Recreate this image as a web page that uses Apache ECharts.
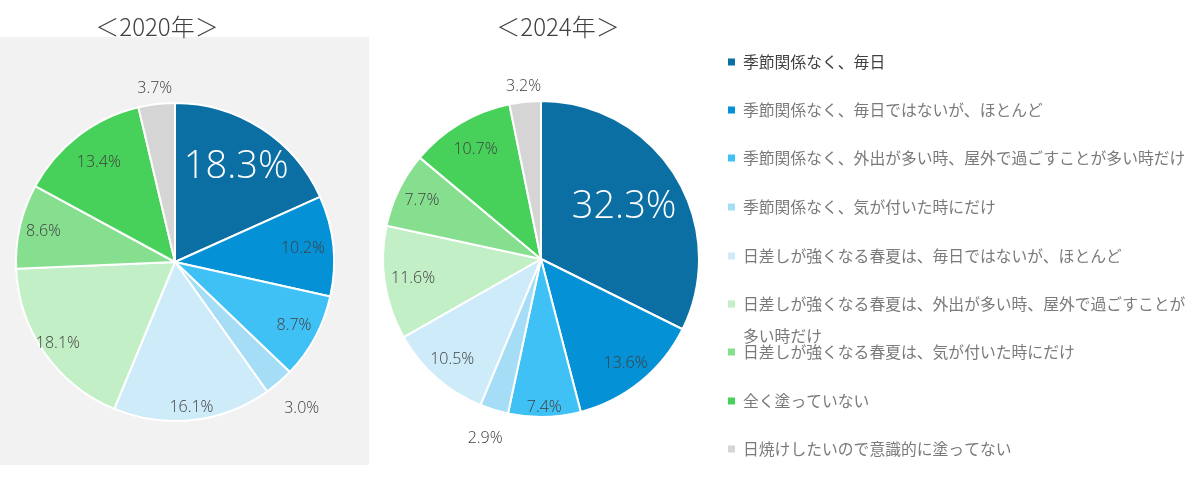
<!DOCTYPE html>
<html><head><meta charset="utf-8">
<script src="https://cdn.jsdelivr.net/npm/echarts@6/dist/echarts.min.js"></script>
<style>html,body{margin:0;padding:0;background:#fff}#c{width:1200px;height:477px}</style>
</head><body><div id="c"></div>
<script>
// ---- data ----
const categories = [
  '季節関係なく、毎日',
  '季節関係なく、毎日ではないが、ほとんど',
  '季節関係なく、外出が多い時、屋外で過ごすことが多い時だけ',
  '季節関係なく、気が付いた時にだけ',
  '日差しが強くなる春夏は、毎日ではないが、ほとんど',
  '日差しが強くなる春夏は、外出が多い時、屋外で過ごすことが多い時だけ',
  '日差しが強くなる春夏は、気が付いた時にだけ',
  '全く塗っていない',
  '日焼けしたいので意識的に塗ってない'
];
const values2020 = [18.3, 10.2, 8.7, 3.0, 16.1, 18.1, 8.6, 13.4, 3.7];
const values2024 = [32.3, 13.6, 7.4, 2.9, 10.5, 11.6, 7.7, 10.7, 3.2];
const yearTitles = ['＜2020年＞', '＜2024年＞'];

// ---- styles / layout ----
const colors = ['#0B6FA4','#0591D5','#40C1F5','#A6DDF6','#CDEBF9','#C3EFC6','#86DE8F','#48D15A','#D5D5D5'];
const FONT = "'Noto Sans CJK JP', 'Noto Sans', sans-serif";
const NUMFONT = "'Open Sans', 'Noto Sans', sans-serif";
const pies = [
  { values: values2020, center: [175, 262], r: 159,
    labelR: [0.69, 0.79, 0.83, 1.2, 0.9, 0.88, 0.83, 0.77, 1.08],
    title: yearTitles[0], titleX: 157 },
  { values: values2024, center: [541, 259], r: 158,
    labelR: [0.6, 0.83, 0.92, 1.17, 0.83, 0.8, 0.82, 0.79, 1.08],
    title: yearTitles[1], titleX: 558 }
];
const legendY = [62, 110, 158, 207, 256, 304, 352, 401, 449];

const series = [];
pies.forEach(p => {
  series.push({
    type: 'pie', center: p.center, radius: [0, p.r], startAngle: 90, clockwise: true,
    silent: true, label: { show: false }, labelLine: { show: false },
    itemStyle: { borderColor: '#ffffff', borderWidth: 2 },
    emphasis: { disabled: true },
    data: categories.map((n, i) => ({ name: n, value: p.values[i], itemStyle: { color: colors[i] } }))
  });
});
pies.forEach(p => {
  const maxV = Math.max(...p.values);
  categories.forEach((_, k) => {
    const f = p.labelR[k];
    const a = (2 * f - 1) * p.r;
    series.push({
      type: 'pie', center: p.center, radius: [Math.min(p.r, a), Math.max(p.r, a)],
      startAngle: 90, clockwise: true, silent: true, avoidLabelOverlap: false,
      itemStyle: { color: 'rgba(0,0,0,0)', borderWidth: 0 },
      labelLine: { show: false }, emphasis: { disabled: true },
      label: { show: false },
      data: categories.map((n, i) => {
        const big = p.values[i] === maxV;
        return {
          name: n, value: p.values[i],
          label: {
            show: i === k, position: 'inside',
            formatter: (q) => q.value.toFixed(1) + '%',
            fontFamily: NUMFONT, fontWeight: 300,
            fontSize: big ? 38 : 16,
            color: big ? '#ffffff' : '#404040'
          }
        };
      })
    });
  });
});

const legends = categories.map((name, i) => {
  const wrap = i === 5;
  const l1 = name.slice(0, name.length - 5), l2 = name.slice(name.length - 5);
  return {
    show: true, left: 726, top: legendY[i] - (wrap ? 48 : 10), orient: 'vertical',
    padding: 0, itemWidth: 9, itemHeight: 9, icon: 'rect', selectedMode: false,
    data: [name],
    formatter: wrap ? (() => '{p| }\n{t|' + l1 + '}\n{t|' + l2 + '}') : undefined,
    textStyle: {
      fontFamily: FONT, fontSize: 15.8, lineHeight: 20,
      color: i === 0 ? '#404040' : '#7A7A7A',
      padding: [0, 0, 0, 2],
      rich: wrap ? {
        p: { lineHeight: 32, fontSize: 15.8 },
        t: { lineHeight: 32, fontSize: 15.8, fontFamily: FONT, color: '#7A7A7A' }
      } : undefined
    }
  };
});

const chart = echarts.init(document.getElementById('c'), null, { renderer: 'canvas' });
chart.setOption({
  backgroundColor: '#ffffff',
  animation: false,
  graphic: [
    { type: 'rect', z: -10, shape: { x: 0, y: 37, width: 369, height: 428 }, style: { fill: '#F2F2F2' } },
    ...pies.map(p => ({ type: 'text', z: 10, x: p.titleX, y: 27,
      style: { text: p.title, fontFamily: FONT, fontSize: 24, fontWeight: 300, fill: '#404040', textAlign: 'center', textVerticalAlign: 'middle' } }))
  ],
  legend: legends,
  series: series
});
</script></body></html>
